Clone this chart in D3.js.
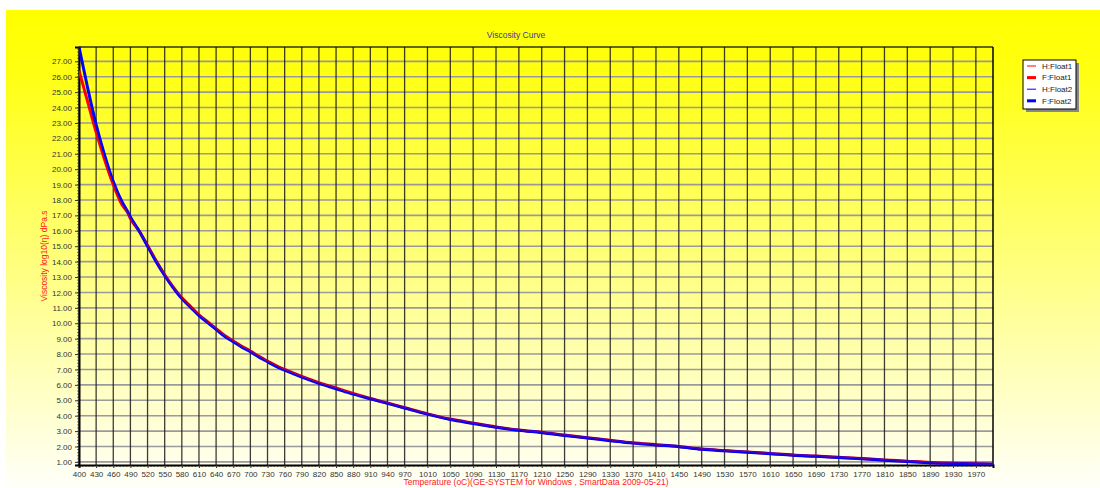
<!DOCTYPE html>
<html>
<head>
<meta charset="utf-8">
<script src="https://cdn.jsdelivr.net/npm/d3@7"></script>
<style>
body { margin: 0; background: #fff; }
text { font-family: "Liberation Sans", Arial, sans-serif; }
</style>
</head>
<body>
<div id="graph"></div>
<script>
// chart data
const temps = [400, 415, 430, 445, 460, 475, 485, 490, 505, 520, 535, 550, 565, 580, 595, 610, 625, 640, 655, 670, 685, 700, 715, 730, 745, 760, 790, 820, 850, 880, 910, 940, 970, 1010, 1050, 1090, 1130, 1170, 1210, 1250, 1290, 1330, 1370, 1410, 1450, 1490, 1530, 1570, 1610, 1650, 1690, 1730, 1770, 1810, 1850, 1890, 1930, 1970, 2000];
const fFloat1 = [26.4, 24.4, 22.4, 20.6, 19.0, 17.7, 17.2, 16.8, 16.0, 15.05, 14.05, 13.15, 12.35, 11.65, 11.1, 10.55, 10.1, 9.65, 9.2, 8.85, 8.5, 8.2, 7.85, 7.55, 7.25, 7.0, 6.55, 6.15, 5.8, 5.45, 5.12, 4.82, 4.52, 4.12, 3.78, 3.52, 3.27, 3.07, 2.92, 2.74, 2.57, 2.4, 2.24, 2.12, 2.0, 1.84, 1.74, 1.65, 1.55, 1.45, 1.38, 1.3, 1.22, 1.13, 1.05, 0.97, 0.92, 0.88, 0.85];
const fFloat2 = [27.93, 25.3, 22.9, 20.9, 19.2, 17.9, 17.25, 16.9, 16.0, 15.0, 14.0, 13.1, 12.3, 11.6, 11.05, 10.5, 10.05, 9.6, 9.15, 8.8, 8.45, 8.15, 7.8, 7.5, 7.2, 6.95, 6.5, 6.1, 5.75, 5.4, 5.1, 4.8, 4.5, 4.1, 3.75, 3.5, 3.25, 3.05, 2.9, 2.72, 2.55, 2.38, 2.22, 2.1, 1.99, 1.82, 1.72, 1.63, 1.53, 1.43, 1.36, 1.28, 1.2, 1.11, 1.03, 0.95, 0.9, 0.87, 0.85];
const hFloat1 = fFloat1;
const hFloat2 = fFloat2;
const xTicks = [400, 430, 460, 490, 520, 550, 580, 610, 640, 670, 700, 730, 760, 790, 820, 850, 880, 910, 940, 970, 1010, 1050, 1090, 1130, 1170, 1210, 1250, 1290, 1330, 1370, 1410, 1450, 1490, 1530, 1570, 1610, 1650, 1690, 1730, 1770, 1810, 1850, 1890, 1930, 1970];
const yTicks = [1, 2, 3, 4, 5, 6, 7, 8, 9, 10, 11, 12, 13, 14, 15, 16, 17, 18, 19, 20, 21, 22, 23, 24, 25, 26, 27];
const seriesNames = ["H:Float1", "F:Float1", "H:Float2", "F:Float2"];

const width = 1100, height = 488;
const plot = {left: 79, right: 993, top: 47, bottom: 465};

const graph = d3.select("div#graph")
	.append("svg")
	.attr("width", width)
	.attr("height", height);

const defs = graph.append("defs");
const grad = defs.append("linearGradient")
	.attr("id", "bg")
	.attr("x1", 0).attr("y1", 0).attr("x2", 0).attr("y2", 1);
grad.append("stop").attr("offset", "0").attr("stop-color", "#ffff00");
grad.append("stop").attr("offset", "0.12").attr("stop-color", "#ffff10");
grad.append("stop").attr("offset", "1").attr("stop-color", "#fffffa");

graph.append("rect")
	.attr("x", 6).attr("y", 10)
	.attr("width", width - 6).attr("height", height - 10)
	.attr("fill", "url(#bg)");

const xScale = d3.scaleLinear()
	.range([plot.left, plot.right])
	.domain([400, 2000]);

const yScale = d3.scaleLinear()
	.range([plot.bottom, plot.top])
	.domain([0.8, 27.93]);

// minor tick positions (5 subdivisions between major ticks)
let xMinor = [];
for (let i = 0; i < xTicks.length; i++) {
	let a = xTicks[i];
	let b = i < xTicks.length - 1 ? xTicks[i + 1] : 2000;
	let step = (i < xTicks.length - 1 ? b - a : 40) / 5;
	for (let k = 1; k < 5; k++) if (a + k * step <= 2000) xMinor.push(a + k * step);
}
let yMinor = [];
for (let v = 0.8; v <= 27.93; v += 0.2) yMinor.push(+v.toFixed(1));

// grid
graph.append("g").selectAll("line.hg").data(yTicks).join("line")
	.attr("x1", plot.left).attr("x2", plot.right)
	.attr("y1", d => yScale(d)).attr("y2", d => yScale(d))
	.attr("stroke", "#9a9a9a").attr("stroke-width", 1.6);

graph.append("g").selectAll("line.vg").data(xTicks).join("line")
	.attr("x1", d => xScale(d)).attr("x2", d => xScale(d))
	.attr("y1", plot.top).attr("y2", plot.bottom)
	.attr("stroke", "#1a1a1a").attr("stroke-opacity", 0.85).attr("stroke-width", 1.3);

// plot frame
graph.append("line")
	.attr("x1", plot.left).attr("x2", plot.right)
	.attr("y1", plot.top).attr("y2", plot.top)
	.attr("stroke", "#000").attr("stroke-opacity", 0.6).attr("stroke-width", 2);
graph.append("line")
	.attr("x1", plot.right).attr("x2", plot.right)
	.attr("y1", plot.top).attr("y2", plot.bottom)
	.attr("stroke", "#000").attr("stroke-width", 1.5);

// axes
const xAxis = d3.axisBottom(xScale).tickValues(xTicks).tickSize(3).tickPadding(3).tickFormat(d3.format("d"));
const yAxis = d3.axisLeft(yScale).tickValues(yTicks).tickSize(4).tickPadding(3).tickFormat(d3.format(".2f"));

graph.append("g")
	.attr("transform", `translate(0, ${plot.bottom})`)
	.selectAll("line").data(xMinor).join("line")
	.attr("x1", d => xScale(d)).attr("x2", d => xScale(d))
	.attr("y1", 0).attr("y2", 2)
	.attr("stroke", "#555").attr("stroke-width", 0.8);

graph.append("g")
	.attr("transform", `translate(${plot.left}, 0)`)
	.selectAll("line").data(yMinor).join("line")
	.attr("x1", -2).attr("x2", 0)
	.attr("y1", d => yScale(d)).attr("y2", d => yScale(d))
	.attr("stroke", "#555").attr("stroke-width", 0.8);

const gx = graph.append("g")
	.attr("class", "x axis")
	.attr("transform", `translate(0, ${plot.bottom})`)
	.call(xAxis);
gx.select(".domain").attr("stroke", "#000").attr("stroke-width", 2);
gx.selectAll(".tick line").attr("stroke", "#333");
gx.selectAll("text").attr("font-size", "8px").attr("fill", "#333");

const gy = graph.append("g")
	.attr("class", "y axis")
	.attr("transform", `translate(${plot.left}, 0)`)
	.call(yAxis);
gy.select(".domain").attr("stroke", "#000").attr("stroke-width", 2);
gy.selectAll(".tick line").attr("stroke", "#333");
gy.selectAll("text").attr("font-size", "8px").attr("fill", "#333");

// titles
graph.append("text")
	.attr("x", (plot.left + plot.right) / 2 - 20)
	.attr("y", 38)
	.attr("text-anchor", "middle")
	.attr("font-size", "8.5px")
	.attr("fill", "#3a3aa0")
	.text("Viscosity Curve");

graph.append("text")
	.attr("transform", `translate(47, ${(plot.top + plot.bottom) / 2}) rotate(-90)`)
	.attr("text-anchor", "middle")
	.attr("font-size", "8.5px")
	.attr("fill", "#ff2020")
	.text("Viscosity log10(η) dPa.s");

graph.append("text")
	.attr("x", (plot.left + plot.right) / 2)
	.attr("y", 485)
	.attr("text-anchor", "middle")
	.attr("font-size", "8.5px")
	.attr("fill", "#ff2020")
	.text("Temperature (oC)(GE-SYSTEM for Windows , SmartData 2009-05-21)");

// series
const series = [
	{name: seriesNames[0], values: hFloat1, color: "#ff0000", w: 1},
	{name: seriesNames[1], values: fFloat1, color: "#ff0000", w: 3},
	{name: seriesNames[2], values: hFloat2, color: "#0000ff", w: 1},
	{name: seriesNames[3], values: fFloat2, color: "#0000ff", w: 3}
];

const line = d3.line()
	.curve(d3.curveMonotoneX)
	.x((d, i) => xScale(temps[i]))
	.y(d => yScale(d));

const clip = defs.append("clipPath").attr("id", "plotclip");
clip.append("rect")
	.attr("x", plot.left).attr("y", plot.top - 1)
	.attr("width", plot.right - plot.left).attr("height", plot.bottom - plot.top + 1);

// draw thick lines first, thin ones above
[1, 3, 0, 2].forEach(i => {
	graph.append("path").datum(series[i].values)
		.attr("clip-path", "url(#plotclip)")
		.attr("fill", "none")
		.attr("stroke", series[i].color)
		.attr("stroke-linejoin", "round")
		.attr("stroke-width", series[i].w)
		.attr("d", line);
});

// legend
const lg = graph.append("g").attr("transform", "translate(1023, 60)");
lg.append("rect")
	.attr("x", 3).attr("y", 3).attr("width", 53).attr("height", 49)
	.attr("fill", "#888");
lg.append("rect")
	.attr("x", 0).attr("y", 0).attr("width", 53).attr("height", 49)
	.attr("fill", "#fff").attr("stroke", "#000").attr("stroke-width", 1);

const items = lg.selectAll(".legend").data(series).join("g")
	.attr("class", "legend")
	.attr("transform", (d, i) => `translate(0, ${6 + 11.6 * i})`);
items.append("line")
	.attr("x1", 4).attr("x2", 13).attr("y1", 0).attr("y2", 0)
	.attr("stroke", d => d.color).attr("stroke-width", d => d.w);
items.append("text")
	.attr("x", 19).attr("dy", "0.35em")
	.attr("font-size", "8px")
	.attr("fill", "#222")
	.text(d => d.name);
</script>
</body>
</html>
